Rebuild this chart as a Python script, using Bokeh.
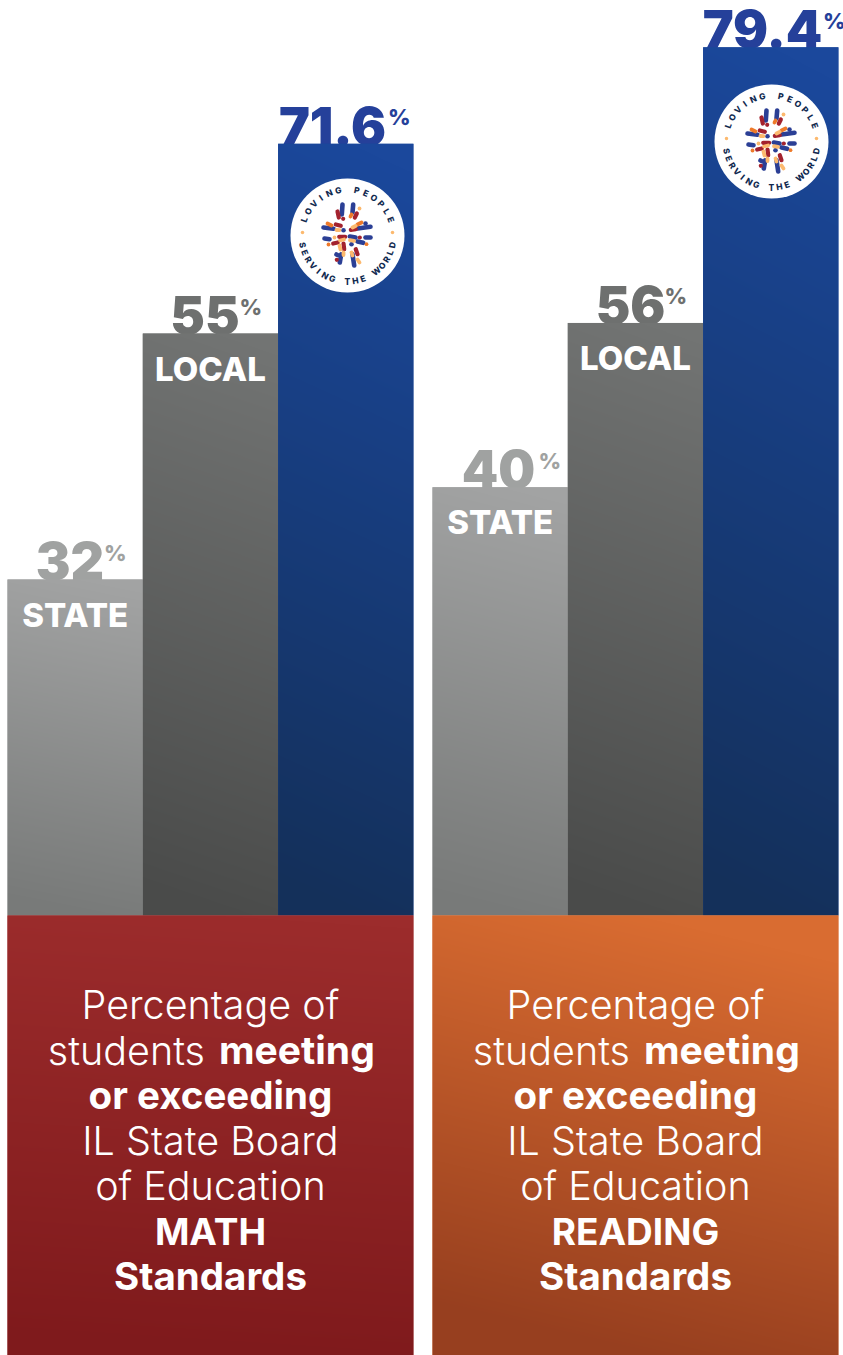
import numpy as np
from bokeh.plotting import figure
from bokeh.embed import file_html
from bokeh.resources import INLINE
from bokeh.core.properties import value

# ---- data ----
groups = ["MATH", "READING"]
categories = ["STATE", "LOCAL", "SCHOOL"]
math_labels = ["32", "55", "71.6"]
reading_labels = ["40", "56", "79.4"]
# bar heights as actually drawn in the picture (percent-units)
math_drawn = [31.7, 54.9, 72.8]
reading_drawn = [40.4, 55.9, 81.9]

bar_top_colors = ["#a2a3a3", "#727473", "#1b489c"]
bar_bottom_colors = ["#787a79", "#4a4b4a", "#14305a"]
label_colors = ["#a0a2a1", "#6e706f", "#25409a"]
panel_top_colors = ["#9c2c2c", "#d96c31"]
panel_bottom_colors = ["#7f1a1c", "#973f1f"]

body_lines = ["Percentage of", None, "or exceeding", "IL State Board", "of Education", None, "Standards"]
body_bold = [False, None, True, False, False, None, True]

# logo dashes: x0, y0, x1, y1 offsets from the logo centre, colour class
dash_b = [(-5,-31,-5.7,-21),(5.7,-31,5,-23),(-24,-8,-14,-6.7),(10,-7,23,-8.7),(-23,3,-18,3.7),(18,2,23,2),(2.3,1,8,2),
          (10,6,15.7,7.3),(-6.3,18.7,-7.7,27),(5,18.7,6.7,30),(-11,19,-10,19.5),
          (-4,-5.3,-4,-5.3),(18,-12,18,-12),(4,8.7,4,8.7)]
dash_r = [(-10,-24,-8.7,-18),(9.3,-22,7.3,-18),(-11.7,-11,-6.7,-9.7),(3.3,-5.7,8.3,-6.3),(-8.3,1.3,-2.3,1.3),
          (-14.3,8,-9.7,7),(-4,8,-3.3,13.7),(8.3,13.7,10,18.7),(12.3,2,12.3,2),(-10.7,24.3,-10.7,24.3),(-4.3,-16.7,-4.3,-16.7)]
dash_o = [(-20,-12,-16,-10),(10,-11,14,-13),(4,-21,3,-19),(-19,9,-19,9),(19,8.7,19,8.7)]
dash_l = [(12,-27,12,-27),(-11,-5.5,-8,-5.3),(5,-8,8,-9.5),(-13,2,-13,2),(-7.5,5,-3.5,4),(2.5,4.7,6.5,5.3),
          (-8,10,-7,14),(4,17,5,20),(10,24,12,27),(-4,17,-4,19.5)]
logo_blue, logo_red, logo_orange, logo_light = "#2b3f95", "#a3222e", "#ee7a2a", "#fcb96e"
logo_top = "LOVING PEOPLE"
logo_bottom = "SERVING THE WORLD"

# ---- layout ----
PX = 10.6
W, H = 843, 1355
BASE = 915
def Y(py): return (BASE - py) / PX
p = figure(width=W, height=H, output_backend="svg", toolbar_location=None,
           x_axis_type=None, y_axis_type=None, x_range=(0, W), y_range=(Y(H), Y(0)),
           min_border=0, outline_line_color=None, background_fill_color="white", border_fill_color="white")
p.grid.visible = False

group_left = [7, 432]
bar_w = 135.3
panel_w = bar_w * 3
panel_depth = (1355 - BASE) / PX

def hex2(c): return np.array([int(c[i:i+2], 16) for i in (1, 3, 5)], float)
def gradient(w, h, top, bot, tilt):
    v, u = np.meshgrid(np.linspace(1, 0, h), np.linspace(0, 1, w), indexing="ij")  # row0 = bottom
    t = np.clip((v + tilt * (0.5 - u)) , 0, 1)[..., None]
    rgb = (hex2(top) * (1 - t) + hex2(bot) * t).astype(np.uint32)
    return (255 << 24) | (rgb[..., 2] << 16) | (rgb[..., 1] << 8) | rgb[..., 0]

F_BOLD = value("Inter")
F_LIGHT = value("Inter Light")
F_BLACK = value("Inter Black")
F_XBOLD = value("Inter ExtraBold")
SHIFT = 0.39  # text in this backend sits lower than asked for

def T(px, py, s, size, color, font, bold=False, align="center", **kw):
    p.text([px], [Y(py - SHIFT * size)], text=[s], text_font=font, text_font_style="bold" if bold else "normal",
           text_font_size=f"{size}px", text_color=color, text_align=align, text_baseline="alphabetic", **kw)

all_labels = [math_labels, reading_labels]
all_drawn = [math_drawn, reading_drawn]
num_centers = [[69.5, 204.5, 332], [498, 630, 762]]
num_rights = [[103.5, 239, 387.5], [538, 664, 822.5]]

# value labels go under the bars so that their feet merge into the bar tops
for g in range(2):
    for i in range(3):
        top_px = BASE - all_drawn[g][i] * PX
        T(num_centers[g][i], top_px + 2, all_labels[g][i], 52, label_colors[i], F_BLACK)
        T(num_rights[g][i], top_px - 18, "%", 22, label_colors[i], F_XBOLD, False, "left")

for g in range(2):
    xs = [group_left[g] + bar_w * (i + 0.5) for i in range(3)]
    p.vbar(x=xs, top=all_drawn[g], bottom=0, width=bar_w, color=[bar_top_colors[i] for i in range(3)], line_color=None)
    for i in range(3):
        h = all_drawn[g][i]
        img = gradient(136, int(h * PX), bar_top_colors[i], bar_bottom_colors[i], 0.08)
        p.image_rgba(image=[img], x=group_left[g] + bar_w * i, y=0, dw=bar_w, dh=h)
    # panel
    p.vbar(x=[group_left[g] + panel_w / 2], top=[0], bottom=[-panel_depth], width=panel_w,
           color=panel_top_colors[g], line_color=None)
    p.image_rgba(image=[gradient(406, 440, panel_top_colors[g], panel_bottom_colors[g], 0.22 if g else 0.06)],
                 x=group_left[g], y=-panel_depth, dw=panel_w, dh=panel_depth)

    # category labels
    for i in range(2):
        top_px = BASE - all_drawn[g][i] * PX
        T(xs[i], top_px + 48, categories[i], 33, "white", F_XBOLD)

    # panel text
    cx = group_left[g] + panel_w / 2
    baselines = [1017, 1063, 1108, 1153, 1198, 1244, 1289]
    for k, (line, bold) in enumerate(zip(body_lines, body_bold)):
        if line is None:
            continue
        if bold:
            T(cx, baselines[k] + 2, line, 38.5, "white", F_BOLD, True)
        else:
            T(cx, baselines[k] + 2.5, line, 39.5, "white", F_LIGHT)
    T(cx - 5.5, baselines[1] + 2.5, "students", 39.5, "white", F_LIGHT, False, "right")
    T(cx + 8.5, baselines[1] + 1.5, "meeting", 39, "white", F_BOLD, True, "left")
    T(cx, baselines[5] + 1.5, groups[g], 37, "white", F_BOLD, True)

# logos
logo_centers = [(347, 235), (771, 141)]
for (lx, ly) in logo_centers:
    p.circle(x=[lx], y=[Y(ly)], radius=57, radius_dimension="x", color="white", line_color=None)
    for dashes, col, lw in ((dash_b, logo_blue, 4.6), (dash_r, logo_red, 4.2), (dash_o, logo_orange, 3.8), (dash_l, logo_light, 3.8)):
        d = np.array(dashes, float)
        p.segment(x0=lx + d[:, 0], y0=Y(ly + d[:, 1]), x1=lx + d[:, 2], y1=Y(ly + d[:, 3]),
                  line_color=col, line_width=lw, line_cap="round")
    p.scatter(x=[lx - 45, lx + 45], y=[Y(ly - 3), Y(ly - 3)], size=3.5, color=logo_light, line_color=None)
    r = 46
    for s, a0, a1, up in ((logo_top, 160, 20, True), (logo_bottom, -168, -12, False)):
        angs = np.radians(np.linspace(a0, a1, len(s)))
        xs = lx + r * np.cos(angs)
        ys = Y(ly - r * np.sin(angs))
        rot = angs - np.pi / 2 if up else angs + np.pi / 2
        keep = [c != " " for c in s]
        p.text(x=xs[keep], y=ys[keep], text=[c for c in s if c != " "], angle=rot[keep], text_font=F_XBOLD,
               text_font_size="8.5px", text_color="#10294f", text_align="center", text_baseline="middle")

open("out.html", "w").write(file_html(p, INLINE))
